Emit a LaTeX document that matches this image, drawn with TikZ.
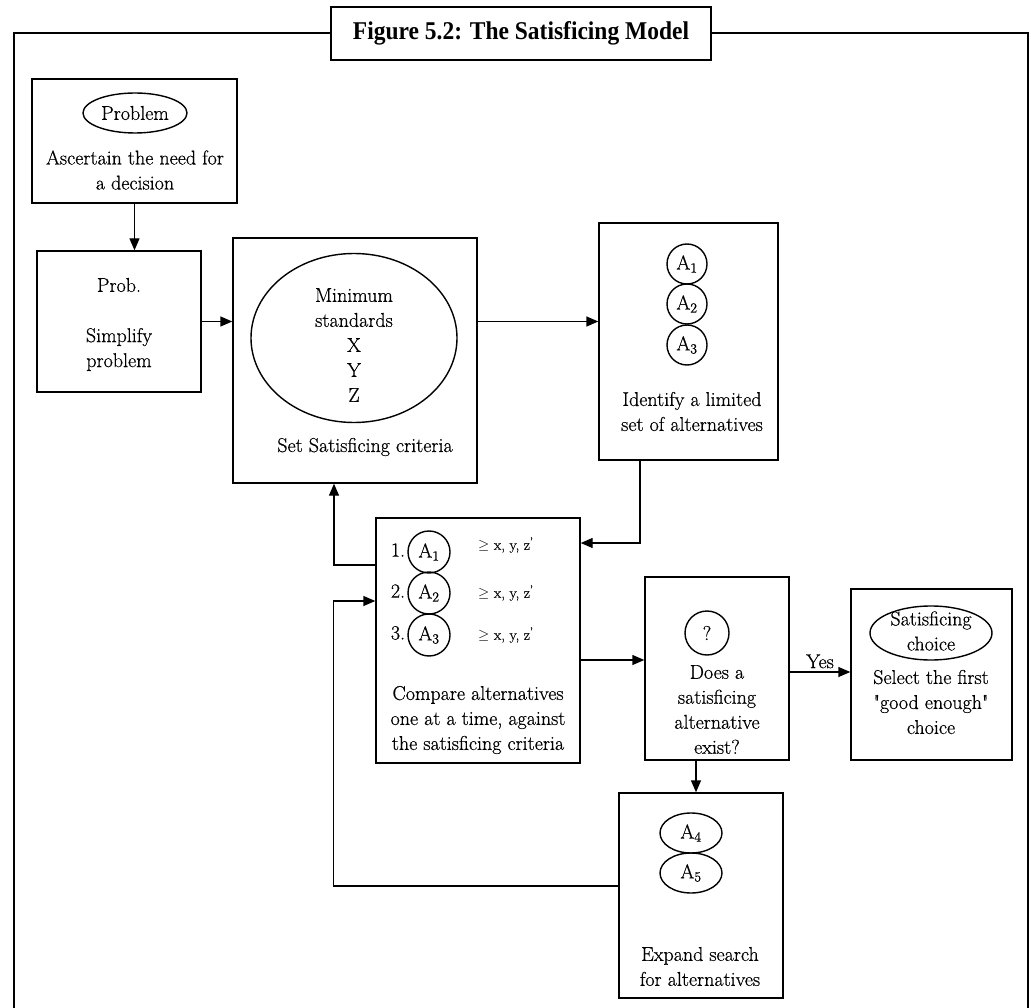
\documentclass[tikz,border=0pt]{standalone}
\usepackage{fontspec}
\usepackage{graphicx}
\newfontfamily\titlefont{Liberation Serif}
\newfontfamily\bodyfont{Latin Modern Roman}[RawFeature={embolden=0.6}]
\usetikzlibrary{arrows.meta,shapes.geometric}
\newcommand\bodyfs{\bodyfont\fontsize{20}{25}\selectfont}
\newcommand\smallfs{\bodyfont\fontsize{15}{18}\selectfont}
\tikzset{
  bx/.style={draw, rectangle, line width=1.4pt, inner sep=0pt},
  txt/.style={inner sep=0pt, font=\bodyfs, align=center},
  arr/.style={line width=1.4pt, -{Triangle[length=12pt,width=10pt]}},
  frm/.style={line width=2pt},
  circ/.style={draw, circle, line width=1.4pt, inner sep=0pt, font=\bodyfs},
  ell/.style={draw, ellipse, line width=1.4pt, inner sep=0pt, font=\bodyfs}
}
\begin{document}
\begin{tikzpicture}[x=1pt,y=-1pt]
\useasboundingbox (0,0) rectangle (1031,1008);

% title and frame
\node[draw, frm, rectangle, minimum width=380pt, minimum height=53pt, inner sep=0pt] (title) at (521,33.5)
  {\resizebox{336pt}{18pt}{\titlefont\bfseries Figure 5.2: The Satisficing Model}};
\coordinate (fbl) at (14,1008);
\coordinate (ftl) at (14,33);
\coordinate (ftr) at (1028,33);
\coordinate (fbr) at (1028,1008);
\draw[frm] (fbl) -- (ftl) -- (ftl -| title.west);
\draw[frm] (ftr -| title.east) -- (ftr) -- (fbr);

% Problem box
\node[bx, minimum width=205pt, minimum height=124pt] (p1) at (134.5,141) {};
\node[ell, minimum width=104pt, minimum height=40pt] (pe) at (135,113) {Problem};
\node[txt] (p1t) at (135,170) {Ascertain the need for\\a decision};

% Prob. box
\node[bx, minimum width=164pt, minimum height=141pt] (p2) at (119,321.5) {};
\node[txt] (p2a) at (119,285) {Prob.};
\node[txt] (p2t) at (119,349.5) {Simplify\\problem};

% Set satisficing criteria box
\node[bx, minimum width=244pt, minimum height=245pt] (set) at (355,360.5) {};
\node[ell, minimum width=206pt, minimum height=169pt] (setE) at (354,338) {};
\node[txt] (setEt) at (354,345) {Minimum\\standards\\X\\Y\\Z};
\node[txt] (sett) at (365,447) {Set Satisficing criteria};

% Identify box
\node[bx, minimum width=179pt, minimum height=237pt] (ident) at (688.5,341.5) {};
\node[circ, minimum size=40pt] (ia1) at (687,264) {A\textsubscript{1}};
\node[circ, minimum size=40pt] (ia2) at (687,304) {A\textsubscript{2}};
\node[circ, minimum size=40pt] (ia3) at (687,345) {A\textsubscript{3}};
\node[txt] (identt) at (692,411.5) {Identify a limited\\set of alternatives};

% Compare box
\node[bx, minimum width=204pt, minimum height=245pt] (comp) at (478,640.5) {};
\node[txt] (n1) at (398,550) {1.};
\node[txt] (n2) at (398,591) {2.};
\node[txt] (n3) at (398,633) {3.};
\node[circ, minimum size=42pt] (ca1) at (429,552) {A\textsubscript{1}};
\node[circ, minimum size=42pt] (ca2) at (429,593) {A\textsubscript{2}};
\node[circ, minimum size=42pt] (ca3) at (429,635) {A\textsubscript{3}};
\node[inner sep=0pt, anchor=west, font=\smallfs] (g1) at (478,545) {$\geq$ x, y, z\textsuperscript{’}};
\node[inner sep=0pt, anchor=west, font=\smallfs] (g2) at (478,593) {$\geq$ x, y, z\textsuperscript{’}};
\node[inner sep=0pt, anchor=west, font=\smallfs] (g3) at (478,635) {$\geq$ x, y, z\textsuperscript{’}};
\node[txt] (compt) at (478,720) {Compare alternatives\\one at a time, against\\the satisficing criteria};

% Does box
\node[bx, minimum width=144pt, minimum height=183pt] (does) at (717,668.5) {};
\node[circ, minimum size=44pt] (q) at (707,633) {?};
\node[txt] (doest) at (717,709.5) {Does a\\satisficing\\alternative\\exist?};

% Satisficing choice box
\node[bx, minimum width=161pt, minimum height=171pt] (satis) at (931.5,674.5) {};
\node[ell, minimum width=122pt, minimum height=54pt] (satE) at (931,633) {};
\node[txt] (satEt) at (931,631) {Satisficing\\choice};
\node[txt] (satt) at (931,702) {Select the first\\\textquotedbl good enough\textquotedbl\\choice};

% Expand box
\node[bx, minimum width=164pt, minimum height=205pt] (expand) at (701,895.5) {};
\node[ell, minimum width=62pt, minimum height=40pt] (ea4) at (691,833) {A\textsubscript{4}};
\node[ell, minimum width=62pt, minimum height=40pt] (ea5) at (691,873) {A\textsubscript{5}};
\node[txt] (expt) at (700,966.5) {Expand search\\for alternatives};

% connectors
\draw[arr] (p1.south) -- (p1.south |- p2.north);
\draw[arr] (p2.east) -- (p2.east -| set.west);
\draw[arr] (set.east |- p2.east) -- (p2.east -| ident.west);
\draw[arr] ([xshift=-48.5pt]ident.south) |- ([yshift=97.5pt]comp.east);
\draw[arr] ([yshift=75.5pt]comp.west) -| ([xshift=-21pt]set.south);
\draw[arr] ([yshift=9.5pt]expand.west) -| ([xshift=-42pt,yshift=39.5pt]comp.west) -- ([yshift=39.5pt]comp.west);
\draw[arr] ([yshift=-19.5pt]comp.east) coordinate (cc) -- (cc -| does.west);
\draw[arr] ([yshift=-3.5pt]does.east) coordinate (dy) -- node[above, inner sep=3pt, font=\bodyfs] (yes) {Yes} (dy -| satis.west);
\draw[arr] ([xshift=-21pt]does.south) coordinate (dd) -- (dd |- expand.north);
\end{tikzpicture}
\end{document}
